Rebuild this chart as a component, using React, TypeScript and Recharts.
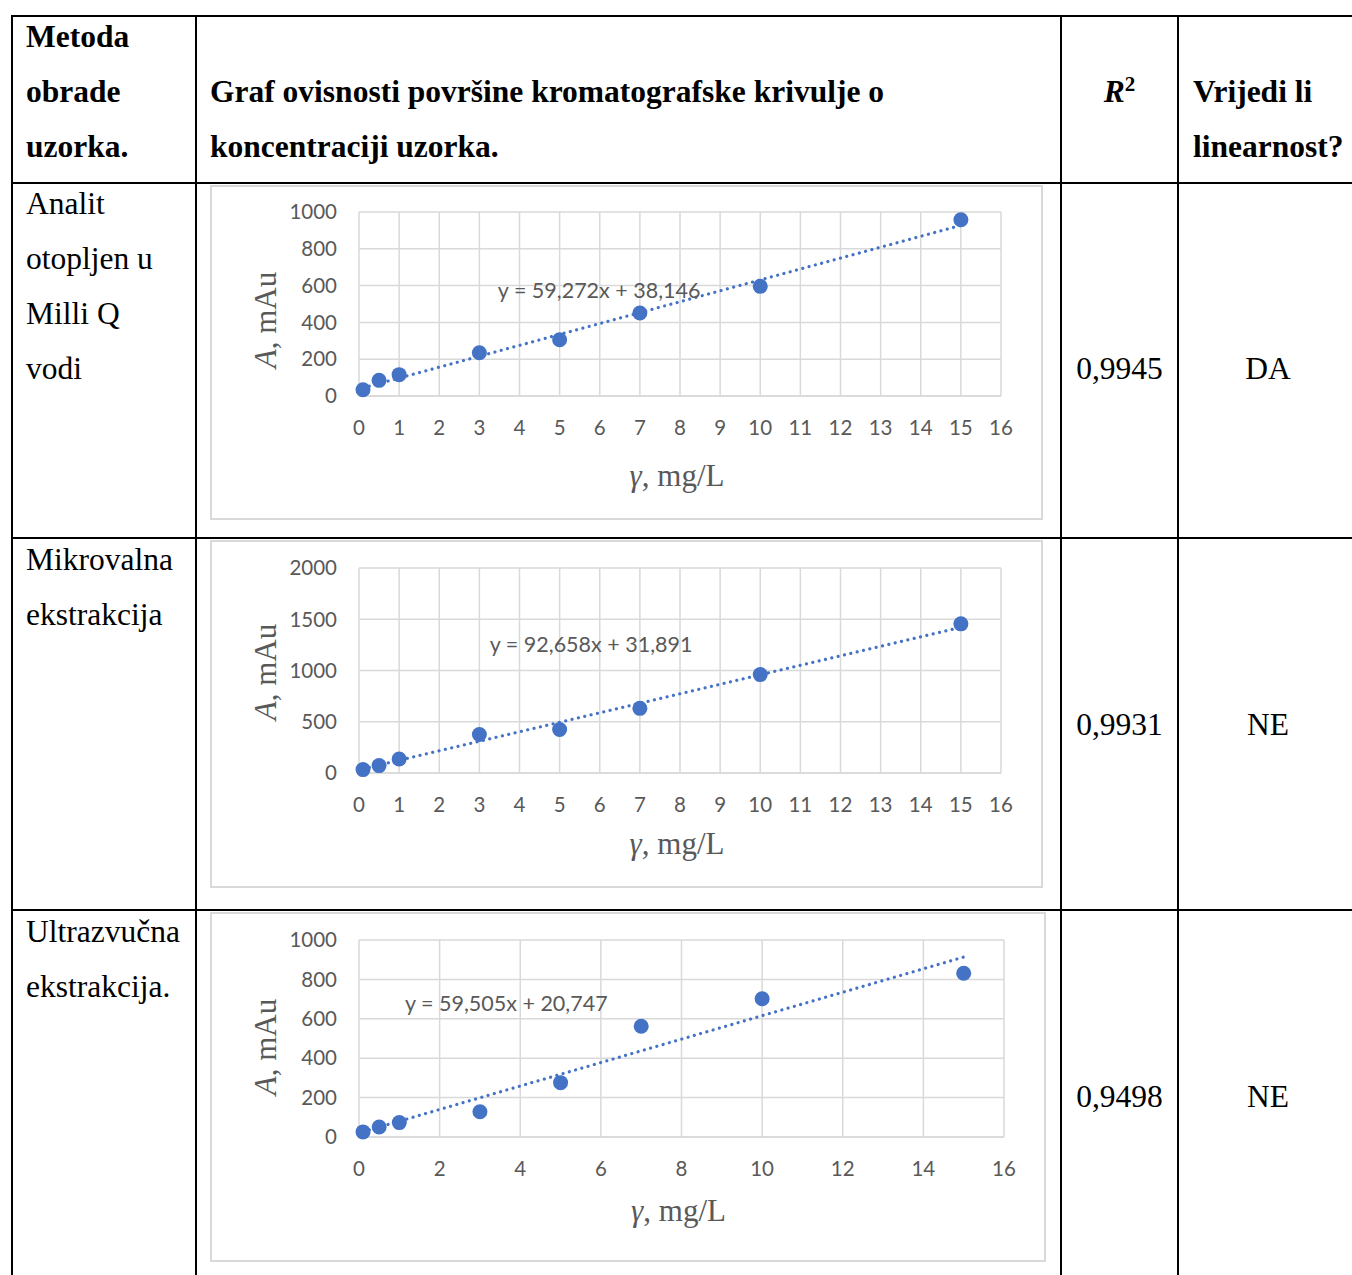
import React from 'react';
import { ScatterChart, Scatter, XAxis, YAxis, CartesianGrid, ReferenceLine, ReferenceDot, Label } from 'recharts';

// concentration of the standards, mg/L
const concentrations = [0.1, 0.5, 1, 3, 5, 7, 10, 15];
// peak areas, mAu
const milliQArea = [34, 85, 116, 235, 306, 451, 596, 958];
const microwaveArea = [33, 72, 137, 376, 425, 631, 960, 1455];
const ultrasoundArea = [26, 51, 73, 128, 276, 562, 702, 831];

const xTicksFine = [0, 1, 2, 3, 4, 5, 6, 7, 8, 9, 10, 11, 12, 13, 14, 15, 16];
const xTicksCoarse = [0, 2, 4, 6, 8, 10, 12, 14, 16];
const yTicks1000 = [0, 200, 400, 600, 800, 1000];
const yTicks2000 = [0, 500, 1000, 1500, 2000];

// trendline coefficients as printed on the charts
const milliQFit = { slope: 59.272, intercept: 38.146, text: 'y = 59,272x + 38,146' };
const microwaveFit = { slope: 92.658, intercept: 31.891, text: 'y = 92,658x + 31,891' };
const ultrasoundFit = { slope: 59.505, intercept: 20.747, text: 'y = 59,505x + 20,747' };

const BLUE = '#4472C4';
const GRID = '#d9d9d9';
const GREY_TEXT = '#595959';
const TICK_FONT = 'Lato, "Open Sans", sans-serif';
const SERIF = '"Liberation Serif", "Times New Roman", serif';

const toPoints = (ys: number[]) => concentrations.map((x, i) => ({ x, y: ys[i] }));

interface CalChartProps {
  left: number;
  top: number;
  width: number;
  height: number;
  marginTop: number;
  marginBottom: number;
  yMax: number;
  yTicks: number[];
  xTicks: number[];
  values: number[];
  fit: { slope: number; intercept: number; text: string };
  eqAt: { x: number; y: number };
  xTitleY: number;
  yTitleY: number;
}

const CalChart: React.FC<CalChartProps> = (p) => {
  const data = toPoints(p.values);
  const x0 = concentrations[0];
  const x1 = concentrations[concentrations.length - 1];
  const seg = [
    { x: x0, y: p.fit.slope * x0 + p.fit.intercept },
    { x: x1, y: p.fit.slope * x1 + p.fit.intercept },
  ];
  const tickStyle = { fill: GREY_TEXT, fontSize: 20.5, fontFamily: TICK_FONT };

  return (
    <div style={{ position: 'absolute', left: p.left, top: p.top, width: p.width, height: p.height }}>
      <div
        style={{
          position: 'absolute', left: 0, top: 0, width: p.width, height: p.height,
          border: `2px solid ${GRID}`, boxSizing: 'border-box',
        }}
      />
      <ScatterChart
        width={p.width}
        height={p.height}
        margin={{ top: p.marginTop, right: 42, left: 79, bottom: p.marginBottom }}
      >
        <CartesianGrid stroke={GRID} strokeWidth={1.5} />
        <XAxis
          type="number"
          dataKey="x"
          domain={[0, 16]}
          ticks={p.xTicks}
          interval={0}
          tickLine={false}
          tickSize={0}
          tickMargin={24}
          height={60}
          axisLine={{ stroke: GRID, strokeWidth: 1.5 }}
          tick={tickStyle}
        >
          <Label
            content={({ viewBox }: any) => (
              <text
                x={viewBox.x + viewBox.width / 2 - 3}
                y={p.xTitleY}
                textAnchor="middle"
                dominantBaseline="central"
                fill={GREY_TEXT}
                fontSize={31}
                fontFamily={SERIF}
              >
                <tspan fontStyle="italic">γ</tspan>, mg/L
              </text>
            )}
          />
        </XAxis>
        <YAxis
          type="number"
          dataKey="y"
          domain={[0, p.yMax]}
          ticks={p.yTicks}
          interval={0}
          width={70}
          tickLine={false}
          axisLine={false}
          tickSize={0}
          tickMargin={22}
          tick={tickStyle}
        >
          <Label
            content={() => (
              <text
                x={55}
                y={p.yTitleY}
                transform={`rotate(-90, 55, ${p.yTitleY})`}
                textAnchor="middle"
                dominantBaseline="central"
                fill={GREY_TEXT}
                fontSize={31}
                fontFamily={SERIF}
              >
                <tspan fontStyle="italic">A</tspan>, mAu
              </text>
            )}
          />
        </YAxis>
        <Scatter
          data={data}
          isAnimationActive={false}
          shape={(s: any) => <circle cx={s.cx} cy={s.cy} r={7.5} fill={BLUE} />}
        />
        <ReferenceLine
          segment={seg}
          stroke={BLUE}
          strokeWidth={3.2}
          strokeDasharray="0.01 6.5"
          strokeLinecap="round"
        />
        <ReferenceDot
          x={p.eqAt.x}
          y={p.eqAt.y}
          r={0}
          fill="none"
          stroke="none"
          label={{
            content: ({ viewBox }: any) => (
              <text
                x={viewBox.x}
                y={viewBox.y}
                dominantBaseline="central"
                fill={GREY_TEXT}
                fontSize={21.5}
                fontFamily={TICK_FONT}
              >
                {p.fit.text}
              </text>
            ),
          }}
        />
      </ScatterChart>
    </div>
  );
};

const LINE_H = 55;
const FONT = 31.5;

const Txt: React.FC<{ x: number; y: number; w?: number; center?: boolean; bold?: boolean; children: React.ReactNode }> = ({
  x, y, w, center, bold, children,
}) => (
  <div
    style={{
      position: 'absolute',
      left: x,
      top: y - 28.5,
      width: w,
      textAlign: center ? 'center' : 'left',
      fontWeight: bold ? 'bold' : 'normal',
      fontSize: FONT,
      lineHeight: `${LINE_H}px`,
      whiteSpace: 'nowrap',
      color: '#000',
    }}
  >
    {children}
  </div>
);

const HLine: React.FC<{ y: number }> = ({ y }) => (
  <div style={{ position: 'absolute', left: 11, top: y - 1, width: 1400, height: 2, background: '#000' }} />
);
const VLine: React.FC<{ x: number }> = ({ x }) => (
  <div style={{ position: 'absolute', left: x - 1, top: 15, width: 2, height: 1300, background: '#000' }} />
);

export default function App() {
  return (
    <div
      style={{
        position: 'absolute', left: 0, top: 0, width: 1352, height: 1275,
        overflow: 'hidden', background: '#fff', fontFamily: SERIF,
      }}
    >
      <HLine y={16} />
      <HLine y={183} />
      <HLine y={538} />
      <HLine y={910} />
      <VLine x={12} />
      <VLine x={196} />
      <VLine x={1061} />
      <VLine x={1178} />

      {/* header */}
      <Txt x={26} y={37} bold>
        Metoda<br />obrade<br />uzorka.
      </Txt>
      <Txt x={210} y={92} bold>
        Graf ovisnosti površine kromatografske krivulje o<br />koncentraciji uzorka.
      </Txt>
      <Txt x={1061} y={92} w={117} center bold>
        <i>R</i><sup style={{ fontSize: 21, lineHeight: 0 }}>2</sup>
      </Txt>
      <Txt x={1193} y={92} bold>
        Vrijedi li<br />linearnost?
      </Txt>

      {/* row 1 */}
      <Txt x={26} y={204}>
        Analit<br />otopljen u<br />Milli Q<br />vodi
      </Txt>
      <Txt x={1061} y={369} w={117} center>0,9945</Txt>
      <Txt x={1178} y={369} w={180} center>DA</Txt>

      {/* row 2 */}
      <Txt x={26} y={560}>
        Mikrovalna<br />ekstrakcija
      </Txt>
      <Txt x={1061} y={725} w={117} center>0,9931</Txt>
      <Txt x={1178} y={725} w={180} center>NE</Txt>

      {/* row 3 */}
      <Txt x={26} y={932}>
        Ultrazvučna<br />ekstrakcija.
      </Txt>
      <Txt x={1061} y={1097} w={117} center>0,9498</Txt>
      <Txt x={1178} y={1097} w={180} center>NE</Txt>

      <CalChart
        left={210} top={185} width={833} height={335}
        marginTop={27} marginBottom={64}
        yMax={1000} yTicks={yTicks1000} xTicks={xTicksFine}
        values={milliQArea} fit={milliQFit}
        eqAt={{ x: 3.46, y: 575 }}
        xTitleY={290} yTitleY={135}
      />
      <CalChart
        left={210} top={540} width={833} height={348}
        marginTop={28} marginBottom={55}
        yMax={2000} yTicks={yTicks2000} xTicks={xTicksFine}
        values={microwaveArea} fit={microwaveFit}
        eqAt={{ x: 3.26, y: 1255 }}
        xTitleY={303} yTitleY={132}
      />
      <CalChart
        left={210} top={912} width={836} height={350}
        marginTop={28} marginBottom={65}
        yMax={1000} yTicks={yTicks1000} xTicks={xTicksCoarse}
        values={ultrasoundArea} fit={ultrasoundFit}
        eqAt={{ x: 1.14, y: 680 }}
        xTitleY={298} yTitleY={135}
      />
    </div>
  );
}
